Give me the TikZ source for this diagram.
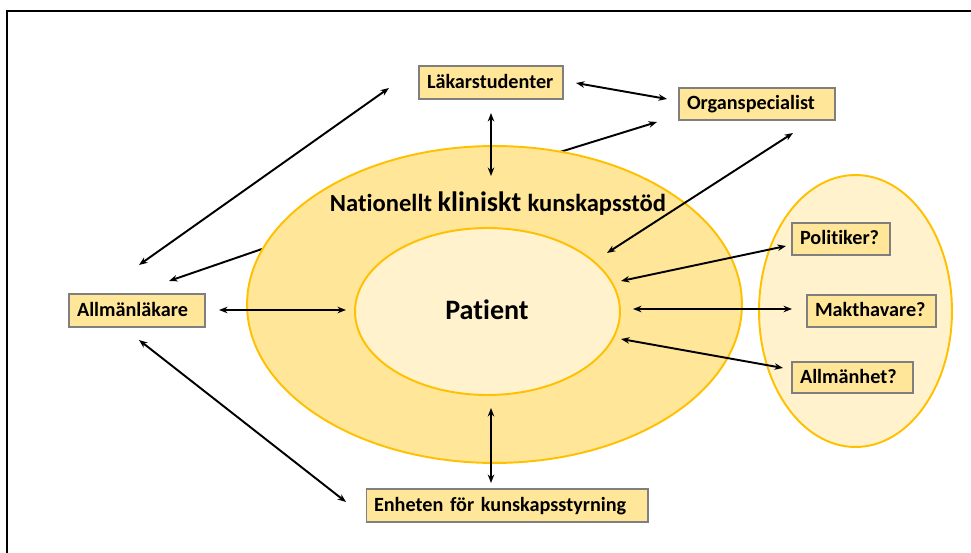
\documentclass[tikz,border=0pt]{standalone}
\usepackage{fontspec}
\setmainfont{Carlito}[Ligatures=NoCommon]
\usetikzlibrary{shapes.geometric,arrows.meta}
\definecolor{outerfill}{HTML}{FFE699}
\definecolor{innerfill}{HTML}{FFF2CC}
\definecolor{goldline}{HTML}{FFC000}
\definecolor{boxline}{HTML}{7F7F7F}
\tikzset{
  box/.style={draw=boxline, line width=0.6pt, fill=outerfill, inner xsep=0.16cm, inner ysep=0pt, align=left, font=\bfseries\fontsize{11.5}{13}\selectfont, text height=0.7em, text depth=0.06em},
  oval/.style={ellipse, draw=goldline, line width=1.1pt, inner sep=0pt},
  conn/.style={line width=1.1pt, black},
  both/.style={conn, {Stealth[length=0.17cm,width=0.13cm]}-{Stealth[length=0.17cm,width=0.13cm]}},
  one/.style={conn, -{Stealth[length=0.17cm,width=0.13cm]}},
}
\begin{document}
\begin{tikzpicture}[x=0.02cm,y=-0.02cm]
\useasboundingbox (0,0) rectangle (971,553);
% frame
\draw[line width=1.2pt] (7,553) -- (7,11) -- (971,11);
% boxes
\node[box, text width=2.56cm, minimum height=0.66cm] (lak) at (491,82.5) {Läkarstudenter};
\node[box, text width=2.80cm, minimum height=0.64cm] (org) at (757,104) {Organspecialist};
\node[box, text width=2.40cm, minimum height=0.66cm] (all) at (137,310.5) {Allmänläkare};
\node[box, text width=5.32cm, minimum height=0.66cm] (enh) at (507,505.5) {Enheten för kunskapsstyrning};
% coordinates
\coordinate (o2s) at (560,152); \coordinate (o2e) at (657,122);
\coordinate (o6s) at (262,249); \coordinate (o6e) at (169,281);
% arrows starting beneath the outer oval
\draw[one] (o2s) -- (o2e);
\draw[one] (o6s) -- (o6e);
% ovals
\node[oval, fill=outerfill, minimum width=9.9cm, minimum height=6.34cm] (outer) at (494.5,304.5) {};
\node[oval, fill=innerfill, minimum width=5.3cm, minimum height=3.34cm] (inner) at (487.5,311.5) {};
\node[oval, fill=innerfill, minimum width=3.86cm, minimum height=5.44cm] (right) at (855.5,311) {};
\node[font=\bfseries, anchor=base] (nat) at (498,212) {\fontsize{14}{16}\selectfont Nationellt \fontsize{16}{18}\selectfont kliniskt \fontsize{14}{16}\selectfont kunskapsstöd};
\node[font=\bfseries\fontsize{16}{18}\selectfont, anchor=base] (pat) at (487,320) {Patient};
\node[box, text width=1.64cm, minimum height=0.64cm] (pol) at (841,239) {Politiker?};
\node[box, text width=2.26cm, minimum height=0.64cm] (mak) at (871.5,311) {Makthavare?};
\node[box, text width=2.10cm, minimum height=0.62cm] (alh) at (852.5,377.5) {Allmänhet?};
% endpoint coordinates
\coordinate (a1s) at (576,83); \coordinate (a1e) at (667,99);
\coordinate (a3s) at (491,113); \coordinate (a3e) at (491,176);
\coordinate (a4s) at (793,133); \coordinate (a4e) at (607,253);
\coordinate (a5s) at (139,265); \coordinate (a5e) at (389,88);
\coordinate (a7s) at (219,310); \coordinate (a7e) at (346,310);
\coordinate (a8s) at (139,340); \coordinate (a8e) at (346,502);
\coordinate (a9s) at (491,408); \coordinate (a9e) at (491,483);
\coordinate (a10s) at (621,281); \coordinate (a10e) at (786,246);
\coordinate (a11s) at (633,309); \coordinate (a11e) at (792,309);
\coordinate (a12s) at (621,339); \coordinate (a12e) at (783,368);
\draw[both] (a1s) -- (a1e);
\draw[both] (a3s) -- (a3e);
\draw[both] (a4s) -- (a4e);
\draw[both] (a5s) -- (a5e);
\draw[both] (a7s) -- (a7e);
\draw[both] (a8s) -- (a8e);
\draw[both] (a9s) -- (a9e);
\draw[both] (a10s) -- (a10e);
\draw[both] (a11s) -- (a11e);
\draw[both] (a12s) -- (a12e);
\end{tikzpicture}
\end{document}
